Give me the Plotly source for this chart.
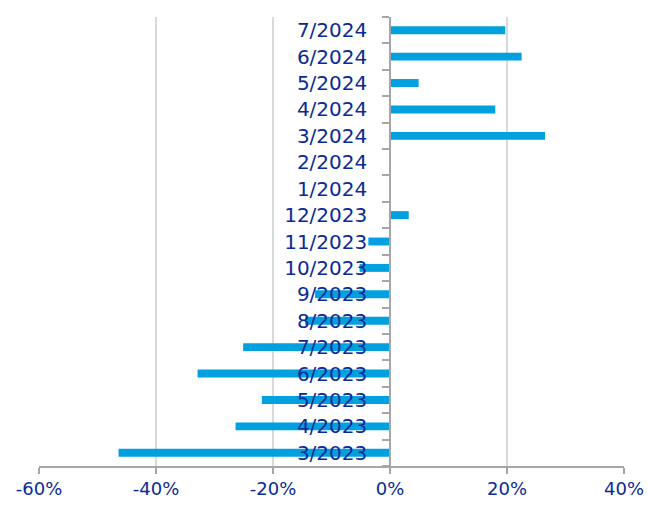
import plotly.graph_objects as go

categories = ["3/2023", "4/2023", "5/2023", "6/2023", "7/2023", "8/2023", "9/2023",
              "10/2023", "11/2023", "12/2023", "1/2024", "2/2024", "3/2024", "4/2024",
              "5/2024", "6/2024", "7/2024"]
values = [-46.4, -26.4, -21.9, -32.9, -25.1, -14.5, -12.8, -5.2, -3.7, 3.2, 0.0, 0.0,
          26.5, 18.0, 4.9, 22.5, 19.7]
x_ticks = [-60, -40, -20, 0, 20, 40]
x_tick_labels = ["-60%", "-40%", "-20%", "0%", "20%", "40%"]

TEXT = "#0A2A96"
BAR = "#00A1DE"
GRID = "#d9d9d9"
AXIS = "#a6a6a6"

fig = go.Figure(go.Bar(
    x=values, y=categories, orientation="h",
    marker=dict(color=BAR, line=dict(width=0)),
    hoverinfo="x+y",
))

fig.update_layout(
    width=648, height=505,
    margin=dict(l=39, r=24, t=17, b=39, autoexpand=False),
    paper_bgcolor="white", plot_bgcolor="white",
    bargap=0.7,
    showlegend=False,
    font=dict(family="DejaVu Sans", size=18, color=TEXT),
    xaxis=dict(
        range=[-60, 40], tickvals=x_ticks, ticktext=x_tick_labels,
        showgrid=True, gridcolor=GRID, gridwidth=1.5,
        zeroline=False, automargin=False,
        showline=True, linecolor=AXIS, linewidth=1.5,
        ticks="outside", ticklen=6, tickcolor=AXIS, tickwidth=1.5,
        tickfont=dict(size=18, color=TEXT),
        fixedrange=True,
    ),
    yaxis=dict(
        type="category", categoryorder="array", categoryarray=categories,
        anchor="free", position=0.6, automargin=False,
        showgrid=False, zeroline=False,
        showline=True, linecolor=AXIS, linewidth=1.5,
        ticks="outside", tickson="boundaries", ticklen=7, tickcolor=AXIS, tickwidth=1.5,
        tickfont=dict(size=20, color=TEXT),
        ticklabelstandoff=18,
        fixedrange=True,
    ),
)

fig.write_html("out.html")
